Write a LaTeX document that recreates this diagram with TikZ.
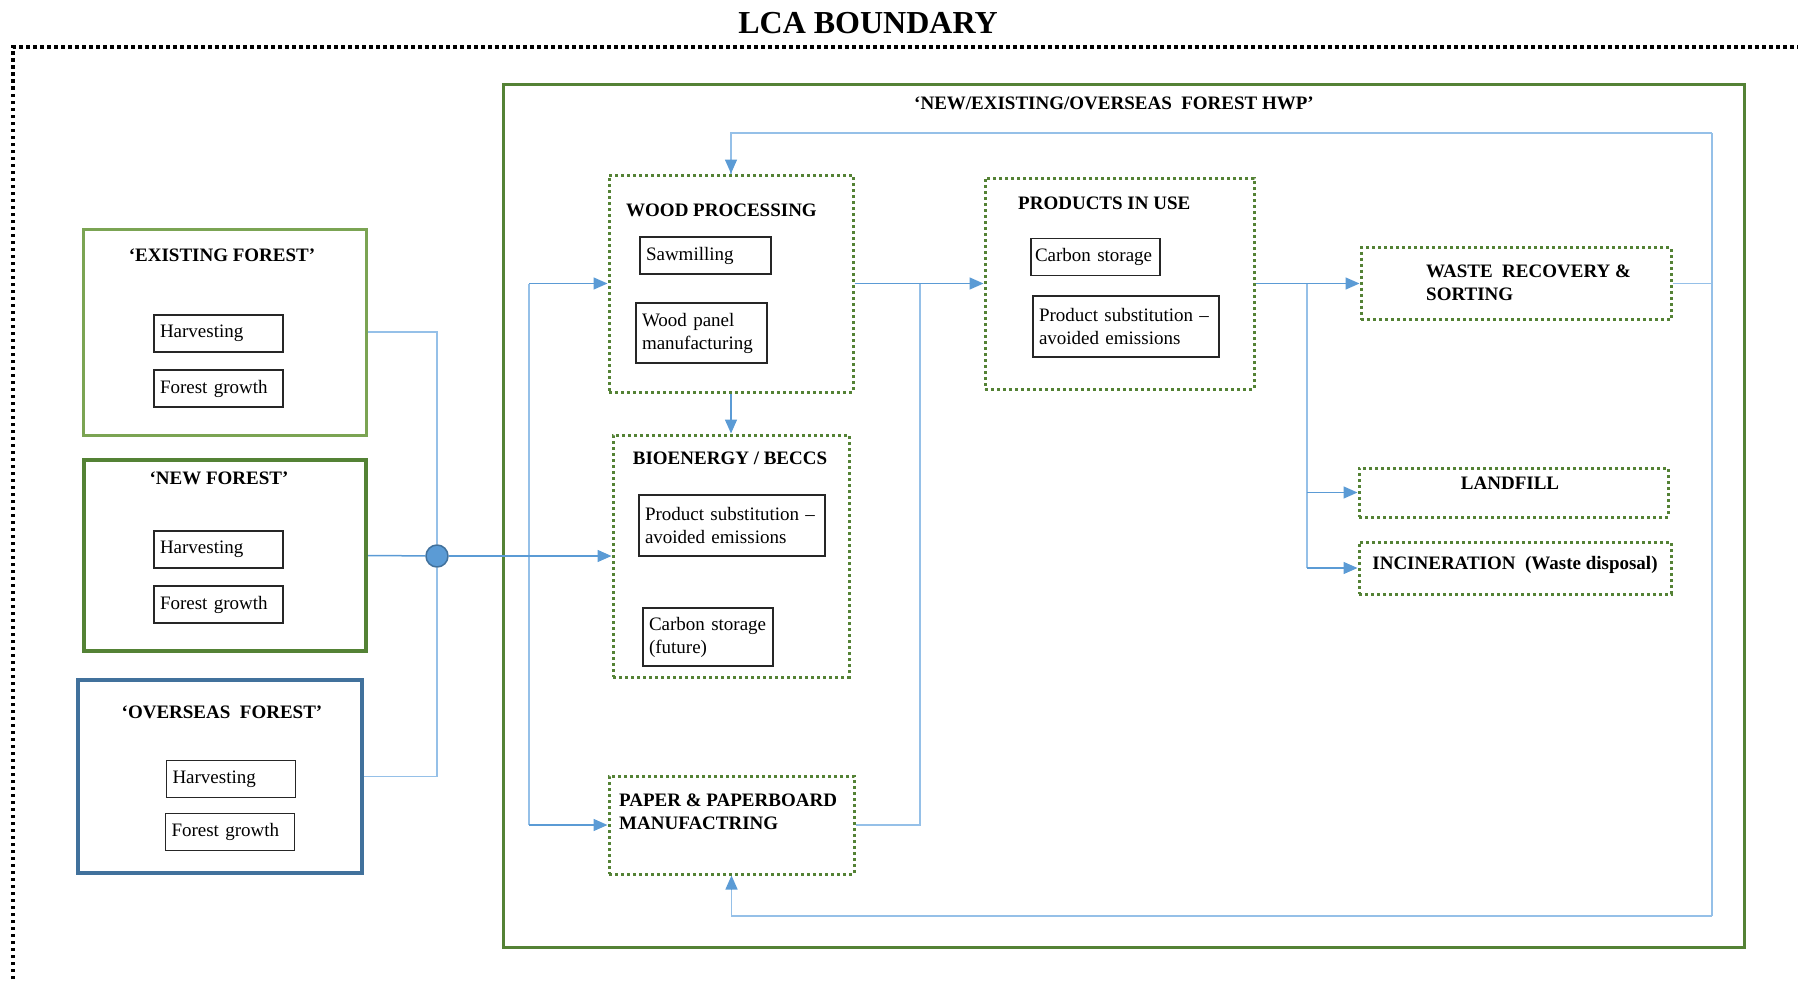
\documentclass[tikz,border=0pt]{standalone}
\usepackage{fontspec}
\setmainfont{Liberation Serif}
\usepackage{tikz}
\usetikzlibrary{arrows.meta,positioning,calc}
\definecolor{FlowBlue}{HTML}{5B9BD5}
\definecolor{PaleFlow}{HTML}{95C0E8}
\definecolor{LeafGreen}{HTML}{548235}
\definecolor{SageGreen}{HTML}{7BA453}
\definecolor{SeaBlue}{HTML}{41719C}
\begin{document}
\begin{tikzpicture}[x=1pt, y=-1pt, font=\fontsize{19}{23}\selectfont, >={Triangle[length=14pt,width=12pt]}]
\tikzset{inbox/.style={draw=black!85, line width=1.2pt, align=left, inner xsep=6pt, inner ysep=0pt, minimum height=37pt, text width=117pt}, forest/.style={draw=#1, line width=3pt}, stage/.style={draw=LeafGreen, line width=3pt, dash pattern=on 3pt off 3pt}, hdr/.style={font=\fontsize{19}{23}\selectfont\bfseries, inner sep=0pt, align=left}, flow/.style={draw=FlowBlue, line width=1.5pt}, lite/.style={draw=PaleFlow, line width=1.5pt}}
\useasboundingbox (0,0) rectangle (1798,982);
\draw[black, line width=3.5pt, dash pattern=on 3.5pt off 3.5pt] (13,1000) |- (1810,47);
\node[font=\fontsize{32}{36}\selectfont\bfseries] (lca) at (868,23) {LCA BOUNDARY};
\node[forest=LeafGreen, minimum width=1241pt, minimum height=863pt] (hwp) at (1123.5,515.5) {};
\node[hdr] (hwp-t) at (1114,103) {`NEW/EXISTING/OVERSEAS\ \ FOREST HWP'};
\node[forest=SageGreen, minimum width=283pt, minimum height=206pt] (exist) at (224.5,332) {};
\node[hdr] (exist-t) at (222,255) {`EXISTING FOREST'};
\node[inbox] (exist-h) at (218.5,333.5) {Harvesting};
\node[inbox] (exist-g) at (218.5,388.5) {Forest growth};
\node[forest=LeafGreen, line width=4pt, minimum width=282pt, minimum height=191pt] (new) at (225,555.5) {};
\node[hdr] (new-t) at (219,478) {`NEW FOREST'};
\node[inbox] (new-h) at (218.5,549.5) {Harvesting};
\node[inbox] (new-g) at (218.5,604.5) {Forest growth};
\node[forest=SeaBlue, line width=3.5pt, minimum width=284pt, minimum height=193pt] (ovs) at (220,776.5) {};
\node[hdr] (ovs-t) at (222,712) {`OVERSEAS\ \ FOREST'};
\node[inbox] (ovs-h) at (231,779) {Harvesting};
\node[inbox] (ovs-g) at (230,832) {Forest growth};
\node[stage, minimum width=244pt, minimum height=217pt] (wood) at (731,283.5) {};
\node[hdr, anchor=west] (wood-t) at (626,210) {WOOD PROCESSING};
\node[inbox, text width=119pt] (saw) at (705.5,255.5) {Sawmilling};
\node[inbox, text width=119pt, minimum height=60pt] (panel) at (701.5,333) {Wood panel\\manufacturing};
\node[stage, minimum width=236pt, minimum height=242pt] (bio) at (731,556) {};
\node[hdr] (bio-t) at (730,458) {BIOENERGY / BECCS};
\node[inbox, text width=174pt, minimum height=61pt] (bio-sub) at (732,525.5) {Product substitution --\\avoided emissions};
\node[inbox, text width=118pt, minimum height=58pt] (bio-cs) at (708,637) {Carbon storage\\(future)};
\node[stage, minimum width=245pt, minimum height=98pt] (paper) at (731.5,825) {};
\node[hdr, anchor=west] (paper-t) at (619,812) {PAPER \& PAPERBOARD\\MANUFACTRING};
\node[stage, minimum width=269pt, minimum height=211pt] (piu) at (1119.5,283.5) {};
\node[hdr, anchor=west] (piu-t) at (1018,203) {PRODUCTS IN USE};
\node[inbox, text width=121pt, inner xsep=4pt] (piu-cs) at (1095.5,257) {Carbon storage};
\node[inbox, text width=174pt, minimum height=61pt] (piu-sub) at (1126,326.5) {Product substitution --\\avoided emissions};
\node[stage, minimum width=310pt, minimum height=72pt] (waste) at (1516,283.5) {};
\node[hdr, anchor=west] (waste-t) at (1426,283) {WASTE\ \ RECOVERY \&\\SORTING};
\node[stage, minimum width=309pt, minimum height=49pt] (land) at (1513.5,492.5) {};
\node[hdr] (land-t) at (1510,483) {LANDFILL};
\node[stage, minimum width=312pt, minimum height=52pt] (incin) at (1515,568) {};
\node[hdr] (incin-t) at (1515,565) {INCINERATION\ \ (Waste disposal)};
\node[circle, fill=FlowBlue, draw=SeaBlue, line width=1.5pt, minimum size=22pt, inner sep=0pt] (hub) at (437,556) {};
\coordinate (split) at (529,556); \coordinate (merge) at (920,283.5); \coordinate (fork) at (1307,283.5);
\coordinate (loopTop) at (1712,133); \coordinate (loopBot) at (1712,916);
\draw[lite] (exist.east) -| (hub); \draw[lite] (ovs.east) -| (hub); \draw[flow] (new.east) -- (hub);
\draw[lite] (split |- wood.west) -- (split |- paper.west);
\draw[flow,->] (hub) -- (bio.west); \draw[flow,->] (split |- wood.west) -- (wood.west); \draw[flow,->] (split |- paper.west) -- (paper.west);
\draw[flow,->] (wood.east) -- (piu.west); \draw[lite] (paper.east) -| (merge); \draw[flow,->] (wood.south) -- (bio.north);
\draw[flow,->] (piu.east) -- (waste.west); \draw[lite] (fork) -- (fork |- incin.west);
\draw[flow,->] (fork |- land.west) -- (land.west); \draw[flow,->] (fork |- incin.west) -- (incin.west);
\draw[lite] (waste.east) -- (waste.east -| loopTop); \draw[lite] (loopTop) -- (loopBot);
\draw[lite] (loopTop) -| (wood.north); \draw[flow,->] (wood.north |- 0,160) -- (wood.north);
\draw[lite] (loopBot) -| (paper.south); \draw[flow,->] (paper.south |- 0,890) -- (paper.south);
\end{tikzpicture}
\end{document}
